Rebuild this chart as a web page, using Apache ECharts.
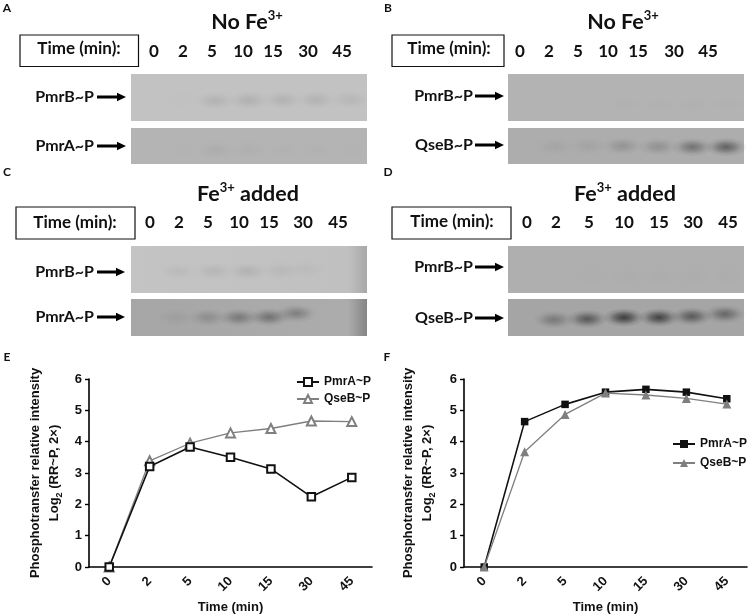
<!DOCTYPE html>
<html>
<head>
<meta charset="utf-8">
<script src="https://cdn.jsdelivr.net/npm/echarts@6/dist/echarts.min.js"></script>
<style>
  html, body { margin: 0; background: #fff; }
  #chart { width: 750px; height: 616px; }
</style>
</head>
<body>
<div id="chart"></div>
<script>
const timeLabels = ['0', '2', '5', '10', '15', '30', '45']
const yTicks = ['0', '1', '2', '3', '4', '5', '6']

const ePmrA = [0, 3.21, 3.83, 3.5, 3.13, 2.24, 2.86]
const eQseB = [0, 3.39, 3.95, 4.28, 4.42, 4.66, 4.64]
const fPmrA = [0, 4.64, 5.19, 5.58, 5.67, 5.58, 5.37]
const fQseB = [0, 3.68, 4.87, 5.55, 5.49, 5.38, 5.2]

// gel bands: darkness per lane, lane centre and height in the blot (0 top, 1 bottom)
const aTopBands = [0, 0.01, 0.1, 0.11, 0.1, 0.1, 0.07]
const aTopLanes = [0, 1, 2, 3, 4, 5, 6]
const aTopRows = [0.55, 0.55, 0.57, 0.56, 0.55, 0.55, 0.55]
const aBotBands = [0, 0.01, 0.05, 0.03, 0.02, 0.02, 0.01]
const aBotLanes = [0, 1, 2, 3, 4, 5, 6]
const aBotRows = [0.6, 0.6, 0.62, 0.6, 0.6, 0.6, 0.6]
const bTopBands = [0, 0, 0, 0.01, 0.01, 0.02, 0.02]
const bTopLanes = [0, 1, 2, 3, 4, 5, 6]
const bTopRows = [0.6, 0.6, 0.65, 0.65, 0.65, 0.65, 0.65]
const bBotBands = [0, 0.06, 0.07, 0.18, 0.2, 0.42, 0.55]
const bBotLanes = [0, 0.9, 1.9, 2.9, 3.95, 4.97, 5.97]
const bBotRows = [0.52, 0.52, 0.5, 0.5, 0.52, 0.53, 0.53]
const cTopBands = [0, 0.06, 0.08, 0.1, 0.06, 0.04, 0]
const cTopLanes = [0, 0.9, 1.95, 2.95, 3.95, 4.7, 6]
const cTopRows = [0.54, 0.54, 0.54, 0.54, 0.52, 0.5, 0.5]
const cBotBands = [0, 0.07, 0.2, 0.36, 0.42, 0.32, 0]
const cBotLanes = [0, 0.86, 1.78, 2.7, 3.6, 4.4, 6]
const cBotRows = [0.5, 0.5, 0.5, 0.5, 0.49, 0.39, 0.5]
const dTopBands = [0, 0, 0.01, 0.02, 0.02, 0.02, 0.02]
const dTopLanes = [0, 1, 2, 3, 4, 5, 6]
const dTopRows = [0.65, 0.65, 0.65, 0.65, 0.65, 0.65, 0.65]
const dBotBands = [0, 0.34, 0.6, 0.8, 0.76, 0.58, 0.48]
const dBotLanes = [0, 0.86, 1.85, 2.94, 3.98, 4.95, 5.93]
const dBotRows = [0.56, 0.56, 0.54, 0.5, 0.5, 0.47, 0.41]

const bodyFont = 'Lato'
const plotFont = 'Liberation Sans'

// each blot gets its own small hidden grid
const blots = [
  { left: 131, top: 74, width: 236, height: 47, bg: '#c2c2c2', bands: aTopBands, lanes: aTopLanes, rows: aTopRows },
  { left: 131, top: 128, width: 236, height: 36, bg: '#b4b4b4', bands: aBotBands, lanes: aBotLanes, rows: aBotRows },
  { left: 508, top: 74, width: 236, height: 47, bg: '#b3b3b3', bands: bTopBands, lanes: bTopLanes, rows: bTopRows },
  { left: 508, top: 128, width: 236, height: 36, bg: '#adadad', bands: bBotBands, lanes: bBotLanes, rows: bBotRows },
  { left: 131, top: 246, width: 236, height: 47, bg: gradient('#c4c4c4', '#c0c0c0', '#a8a8a8'), bands: cTopBands, lanes: cTopLanes, rows: cTopRows },
  { left: 131, top: 299, width: 236, height: 37, bg: gradient('#a6a6a6', '#acacac', '#858585'), bands: cBotBands, lanes: cBotLanes, rows: cBotRows },
  { left: 508, top: 246, width: 236, height: 47, bg: '#afafaf', bands: dTopBands, lanes: dTopLanes, rows: dTopRows },
  { left: 508, top: 299, width: 236, height: 37, bg: '#a5a5a5', bands: dBotBands, lanes: dBotLanes, rows: dBotRows }
]

function gradient(start, mid, end) {
  return {
    type: 'linear', x: 0, y: 0, x2: 1, y2: 0,
    colorStops: [{ offset: 0, color: start }, { offset: 0.92, color: mid }, { offset: 1, color: end }]
  }
}

function bandData(blot) {
  return blot.bands.map((v, i) => ({
    value: [blot.lanes[i], blot.rows[i]],
    symbolSize: [42, 19],
    itemStyle: {
      opacity: 1,
      color: {
        type: 'radial', x: 0.5, y: 0.5, r: 0.5,
        colorStops: [
          { offset: 0, color: `rgba(35,35,35,${v})` },
          { offset: 0.4, color: `rgba(35,35,35,${v * 0.6})` },
          { offset: 0.7, color: `rgba(35,35,35,${v * 0.2})` },
          { offset: 1, color: 'rgba(35,35,35,0)' }
        ]
      }
    }
  }))
}

function linePlot(left, gridIndex, pmrA, qseB, filled, prefix, titleGap) {
  const axisLine = { lineStyle: { color: '#000', width: 1.6 } }
  return {
    grid: { left: left, top: 379, width: 283, height: 188, outerBoundsMode: 'none' },
    xAxis: {
      type: 'category', gridIndex: gridIndex, data: timeLabels,
      name: 'Time (min)', nameLocation: 'middle', nameGap: 34,
      nameTextStyle: { fontFamily: plotFont, fontWeight: 'bold', fontSize: 13, color: '#111' },
      axisLine: axisLine,
      axisTick: { alignWithLabel: true, length: 4, lineStyle: { color: '#000', width: 1.4 } },
      axisLabel: { rotate: 45, fontFamily: plotFont, fontWeight: 'bold', fontSize: 13, color: '#111', margin: 12 }
    },
    yAxis: {
      type: 'value', gridIndex: gridIndex, min: 0, max: 6, interval: 1,
      name: 'Phosphotransfer relative intensity\n{t|Log}{s|2}{t| (RR~P, 2×)}',
      nameLocation: 'middle', nameRotate: 90, nameGap: titleGap,
      nameTextStyle: {
        fontFamily: plotFont, fontWeight: 'bold', fontSize: 13, color: '#111', lineHeight: 19,
        rich: {
          t: { fontFamily: plotFont, fontWeight: 'bold', fontSize: 13, color: '#111', lineHeight: 19 },
          s: { fontFamily: plotFont, fontWeight: 'bold', fontSize: 9, color: '#111', verticalAlign: 'bottom', lineHeight: 19 }
        }
      },
      splitLine: { show: false },
      axisLine: { show: true, lineStyle: axisLine.lineStyle },
      axisTick: { show: true, length: 4, lineStyle: { color: '#000', width: 1.4 } },
      axisLabel: {
        fontFamily: plotFont, fontWeight: 'bold', fontSize: 13, color: '#111', margin: 7,
        formatter: v => yTicks[v]
      }
    },
    series: [
      {
        name: prefix + 'PmrA~P', type: 'line', xAxisIndex: gridIndex, yAxisIndex: gridIndex, data: pmrA,
        symbol: filled ? 'rect' : 'emptyRect', symbolSize: 7.5, showAllSymbol: true,
        z: filled ? 2 : 4,
        lineStyle: { color: '#111', width: 1.6 },
        itemStyle: { color: '#111', borderColor: '#111', borderWidth: filled ? 0 : 1.8 }
      },
      {
        name: prefix + 'QseB~P', type: 'line', xAxisIndex: gridIndex, yAxisIndex: gridIndex, data: qseB,
        symbol: filled ? 'triangle' : 'emptyTriangle', symbolSize: 9, showAllSymbol: true,
        z: 3,
        lineStyle: { color: '#7f7f7f', width: 1.3 },
        itemStyle: { color: '#7f7f7f', borderColor: '#7f7f7f', borderWidth: filled ? 0 : 1.6 }
      }
    ]
  }
}

const plotE = linePlot(89, 0, ePmrA, eQseB, false, 'E ', 25)
const plotF = linePlot(464, 1, fPmrA, fQseB, true, 'F ', 27)

function legendFor(prefix, left, top, gap) {
  return {
    left: left, top: top, padding: 0, orient: 'vertical', itemWidth: 22, itemHeight: 10, itemGap: gap,
    data: [prefix + 'PmrA~P', prefix + 'QseB~P'],
    formatter: name => name.slice(2),
    textStyle: { fontFamily: plotFont, fontWeight: 'bold', fontSize: 12, color: '#111' }
  }
}

const supRich = {
  t: { fontFamily: bodyFont, fontSize: 21.5, color: '#111', lineHeight: 26 },
  u: { fontFamily: bodyFont, fontSize: 13, color: '#111', verticalAlign: 'top', lineHeight: 22 }
}

function panelTitle(x, y, text) {
  return { text: text, left: x, top: y, textAlign: 'center', padding: 0, textStyle: { rich: supRich } }
}

function label(x, y, text, size, align) {
  return {
    type: 'text', x: x, y: y, silent: true,
    style: {
      text: text, fill: '#111', fontFamily: bodyFont, fontWeight: 'bold', fontSize: size,
      align: align || 'center', verticalAlign: 'middle'
    }
  }
}

function arrow(x0, x1, y) {
  return {
    type: 'polygon', silent: true,
    shape: { points: [[x0, y - 1.4], [x1 - 9, y - 1.4], [x1 - 9, y - 4.2], [x1, y], [x1 - 9, y + 4.2], [x1 - 9, y + 1.4], [x0, y + 1.4]] },
    style: { fill: '#000' }
  }
}

function timeBox(x0, x1, y0, y1, textX, textY) {
  return [
    { type: 'rect', silent: true, shape: { x: x0, y: y0, width: x1 - x0, height: y1 - y0 }, style: { fill: '#fff', stroke: '#111', lineWidth: 1.2 } },
    label(textX, textY, 'Time (min):', 17)
  ]
}

function laneLabels(xs, y) {
  return timeLabels.map((t, i) => label(xs[i], y, t, 17))
}

function rowLabel(name, right, y, arrowFrom, arrowTo) {
  return [label(right, y, name, 16, 'right'), arrow(arrowFrom, arrowTo, y)]
}

const graphics = [].concat(
  label(7, 8, 'A', 12), label(388, 8, 'B', 12), label(7, 172, 'C', 12), label(388, 172, 'D', 12),
  label(7, 357, 'E', 12), label(387, 357, 'F', 12),
  timeBox(20, 138.5, 35, 66.5, 79, 49),
  laneLabels([154, 183, 212, 243, 273, 308, 342], 52),
  rowLabel('PmrB~P', 94, 97, 97, 126),
  rowLabel('PmrA~P', 94, 146, 97, 126),
  timeBox(392, 504, 35, 66.5, 449, 49),
  laneLabels([520, 549, 578, 608, 638, 674, 708], 52),
  rowLabel('PmrB~P', 473, 96, 475, 504),
  rowLabel('QseB~P', 473, 145, 475, 504),
  timeBox(16, 135, 207, 239, 75, 223),
  laneLabels([150, 179, 208, 239, 269, 303, 338], 223),
  rowLabel('PmrB~P', 94, 272, 97, 125),
  rowLabel('PmrA~P', 94, 317, 97, 125),
  timeBox(392, 511, 207, 239, 452, 222),
  laneLabels([527, 556, 589, 624, 659, 693, 728], 223),
  rowLabel('PmrB~P', 473, 267, 475, 504),
  rowLabel('QseB~P', 473, 318, 475, 504)
)

const chart = echarts.init(document.getElementById('chart'))
const option = {
  animation: false,
  backgroundColor: '#fff',
  title: [
    panelTitle(247, 9, '{t|No Fe}{u|3+}'),
    panelTitle(623, 9, '{t|No Fe}{u|3+}'),
    panelTitle(248, 181, '{t|Fe}{u|3+}{t| added}'),
    panelTitle(625, 181, '{t|Fe}{u|3+}{t| added}')
  ],
  legend: [legendFor('E ', 296, 376, 5), legendFor('F ', 672, 438, 7)],
  grid: [plotE.grid, plotF.grid].concat(blots.map(b => ({
    show: true, left: b.left, top: b.top, width: b.width, height: b.height,
    backgroundColor: b.bg, borderWidth: 0, outerBoundsMode: 'none'
  }))),
  xAxis: [plotE.xAxis, plotF.xAxis].concat(blots.map((b, i) => ({
    type: 'value', gridIndex: i + 2, min: -0.5, max: 6.5, show: false
  }))),
  yAxis: [plotE.yAxis, plotF.yAxis].concat(blots.map((b, i) => ({
    type: 'value', gridIndex: i + 2, min: 0, max: 1, inverse: true, show: false
  }))),
  series: plotE.series.concat(plotF.series, blots.map((b, i) => ({
    type: 'scatter', xAxisIndex: i + 2, yAxisIndex: i + 2, silent: true,
    symbol: 'circle', data: bandData(b)
  }))),
  graphic: graphics
}
chart.setOption(option)
</script>
</body>
</html>
